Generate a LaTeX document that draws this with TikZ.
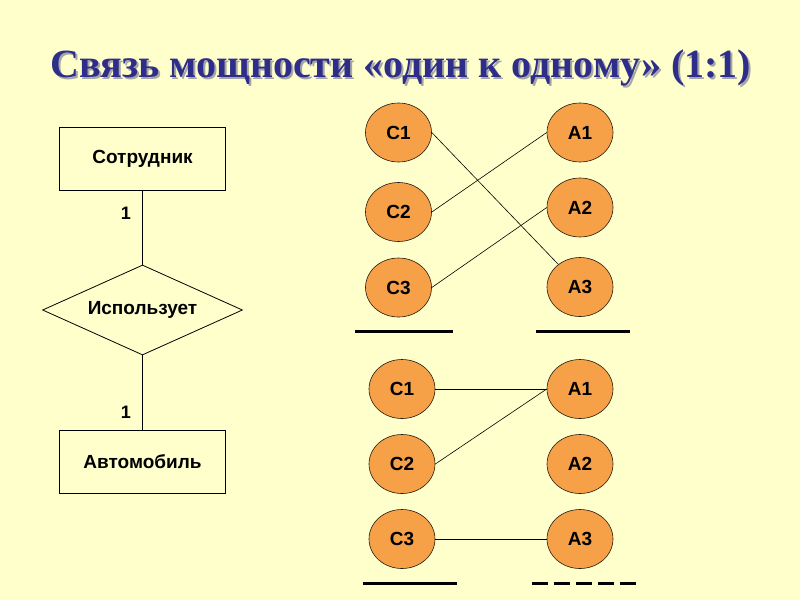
\documentclass[tikz,border=0pt]{standalone}
\usepackage{fontspec}
\setmainfont{Liberation Sans}
\newfontfamily\titlefont{Liberation Serif}
\usetikzlibrary{shapes.geometric,positioning,calc}
\definecolor{bgyellow}{RGB}{255,255,204}
\definecolor{titleblue}{RGB}{46,46,138}
\definecolor{circorange}{RGB}{246,160,72}

\begin{document}
\begin{tikzpicture}[x=1pt,y=-1pt,
ent/.style={draw,line width=0.8pt,minimum width=166pt,minimum height=63pt,
  font=\bfseries\fontsize{19}{19}\selectfont},
rel/.style={diamond,draw,line width=0.8pt,minimum width=200pt,minimum height=90pt,
  aspect=2.2,inner sep=0pt,font=\bfseries\fontsize{19}{19}\selectfont},
card/.style={font=\bfseries\fontsize{18}{18}\selectfont},
inst/.style={ellipse,draw=black!80!brown,line width=0.6pt,fill=circorange,
  minimum width=66pt,minimum height=59pt,inner sep=0pt,
  font=\bfseries\fontsize{19}{19}\selectfont},
link/.style={line width=0.6pt},
bar/.style={line width=3pt}]
\fill[bgyellow] (0,0) rectangle (800,600);
\useasboundingbox (0,0) rectangle (800,600);

% title
\node (tshadow) at (403,70) {\titlefont\bfseries\fontsize{40}{40}\selectfont\color{black!35}Связь мощности «один к одному» (1:1)};
\node (title) at (401,68) {\titlefont\bfseries\fontsize{40}{40}\selectfont\color{titleblue}Связь мощности «один к одному» (1:1)};

% ER diagram
\node (emp) at (142.5,158.5) [ent] {Сотрудник};
\node (uses) at (142.5,310) [rel] {Использует};
\node (car) at (142.5,461.5) [ent] {Автомобиль};
\node (n1) at (126,213) [card] {1};
\node (n2) at (126,412) [card] {1};

\draw[line width=0.8pt] (emp.south) -- (uses.north);
\draw[line width=0.8pt] (uses.south) -- (car.north);

% upper set
\node (c1) at (398.5,132.5) [inst] {С1};
\node (c2) at (398.5,212) [inst] {С2};
\node (c3) at (398.5,287.5) [inst] {С3};
\node (a1) at (580,132.5) [inst] {А1};
\node (a2) at (580,207.5) [inst] {А2};
\node (a3) at (580,287) [inst] {А3};

\draw[link] (c1.east) -- (a3);
\draw[link] (c2.east) -- (a1.west);
\draw[link] (c3.east) -- (a2.west);

\draw[bar] (355,331) -- (453,331);
\draw[bar] (536,331) -- (630,331);

% lower set
\node (d1) at (402,389) [inst] {С1};
\node (d2) at (402,464) [inst] {С2};
\node (d3) at (402,539) [inst] {С3};
\node (b1) at (580,389) [inst] {А1};
\node (b2) at (580,464) [inst] {А2};
\node (b3) at (580,539) [inst] {А3};

\draw[link] (d1.east) -- (b1.west);
\draw[link] (d2.east) -- (b1.west);
\draw[link] (d3.east) -- (b3.west);

\draw[bar] (363,583) -- (457,583);
\draw[bar,dash pattern=on 16pt off 6pt] (532,583) -- (637,583);

\end{tikzpicture}
\end{document}
